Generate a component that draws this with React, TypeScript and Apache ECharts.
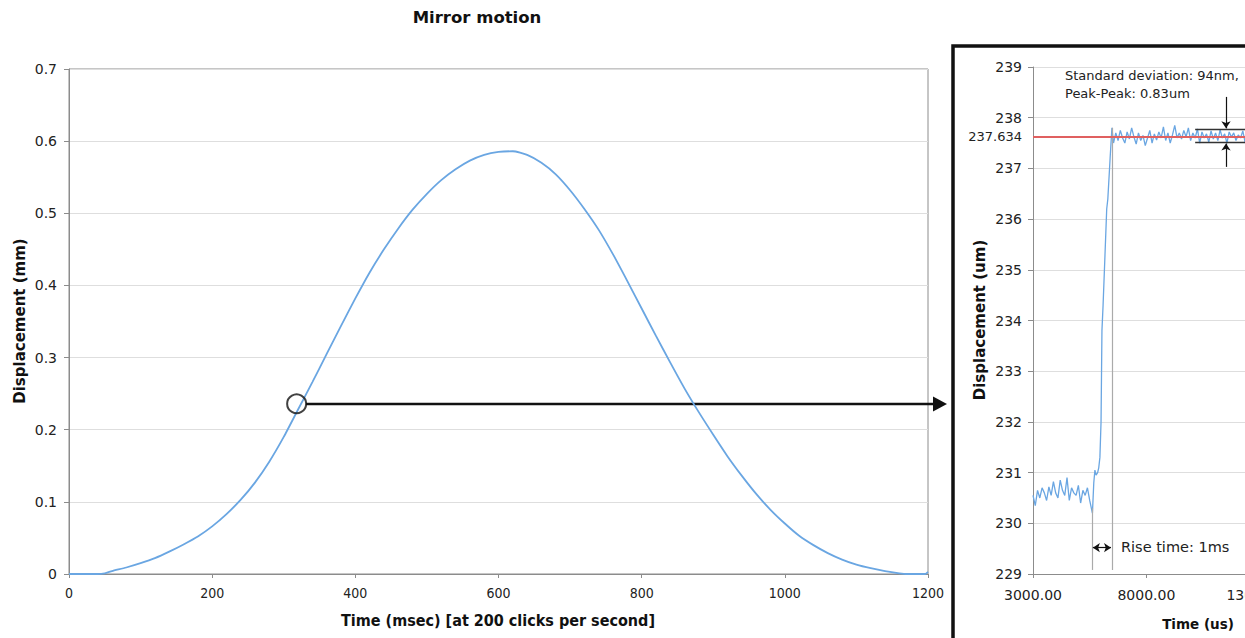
import React, { useEffect, useRef } from "react";
import * as echarts from "echarts";

// Main chart: time (ms) vs displacement (mm)
const mainTime = [0, 20, 40, 50, 60, 80, 100, 120, 140, 160, 180, 200, 220, 240, 260, 280, 300, 320, 340, 360, 380, 400, 420, 440, 460, 480, 500, 520, 540, 560, 580, 600, 620, 640, 660, 680, 700, 720, 740, 760, 780, 800, 820, 840, 860, 880, 900, 920, 940, 960, 980, 1000, 1020, 1040, 1060, 1080, 1100, 1120, 1140, 1160, 1170, 1196, 1200];
const mainDisp = [0, 0, 0, 0.001, 0.004, 0.009, 0.015, 0.022, 0.031, 0.041, 0.052, 0.066, 0.083, 0.103, 0.127, 0.156, 0.19, 0.228, 0.266, 0.305, 0.344, 0.382, 0.418, 0.45, 0.479, 0.505, 0.527, 0.546, 0.561, 0.573, 0.581, 0.585, 0.586, 0.581, 0.57, 0.554, 0.532, 0.506, 0.477, 0.443, 0.406, 0.368, 0.33, 0.293, 0.257, 0.224, 0.193, 0.163, 0.136, 0.111, 0.089, 0.07, 0.053, 0.04, 0.029, 0.02, 0.013, 0.008, 0.004, 0.001, 0, 0, 0.003];
const highlightPoint = [318, 0.236];

// Inset chart: time (us) vs displacement (um)
const insetTime = [
  3000, 3100, 3200, 3300, 3400, 3500, 3600, 3700, 3800, 3900, 4000, 4100, 4200, 4300, 4400, 4500, 4600, 4700, 4800, 4900, 5000, 5100, 5200, 5300, 5400, 5500,
  5620, 5680, 5730, 5780, 5850, 5900, 5950, 6000, 6040, 6090, 6200, 6250, 6300, 6400, 6480,
  6550, 6650, 6750, 6850, 6950, 7050, 7150, 7250, 7350, 7450, 7550, 7650, 7750, 7850, 7950, 8050, 8150, 8250, 8350, 8450, 8550, 8650, 8750, 8850, 8950, 9050, 9150, 9250, 9350, 9450, 9550, 9650, 9750, 9850, 9950, 10050, 10150, 10250, 10350, 10450, 10550, 10650, 10750, 10850, 10950, 11050, 11150, 11250, 11350, 11450, 11550, 11650, 11750, 11850, 11950, 12050, 12150, 12250, 12350, 12450, 12550,
];
const insetDisp = [
  230.55, 230.35, 230.65, 230.5, 230.7, 230.6, 230.45, 230.72, 230.55, 230.82, 230.6, 230.5, 230.85, 230.65, 230.55, 230.9, 230.45, 230.7, 230.6, 230.55, 230.75, 230.4, 230.65, 230.55, 230.7, 230.45,
  230.2, 230.8, 231.05, 230.95, 231.0, 231.1, 231.3, 232.0, 233.8, 234.3, 235.6, 236.2, 236.4, 237.2, 237.8,
  237.5, 237.7, 237.55, 237.75, 237.6, 237.5, 237.72, 237.58, 237.8, 237.62, 237.48, 237.7, 237.55, 237.65, 237.45, 237.6, 237.75, 237.5, 237.68, 237.56, 237.72, 237.6, 237.82, 237.55, 237.7, 237.5, 237.66, 237.85, 237.6, 237.7, 237.58, 237.75, 237.62, 237.8, 237.55, 237.7, 237.6, 237.78, 237.5, 237.72, 237.6, 237.68, 237.52, 237.74, 237.58, 237.7, 237.55, 237.76, 237.6, 237.68, 237.5, 237.72, 237.62, 237.7, 237.55, 237.66, 237.6, 237.74, 237.52, 237.68,
];
const insetMean = 237.634;
const peakTop = 237.77;
const peakBottom = 237.51;
const riseStart = 5600;
const riseEnd = 6480;

const FONT = '"DejaVu Sans", Verdana, sans-serif';
const COND = '"DejaVu Sans Condensed", "DejaVu Sans", sans-serif';
const LINE_BLUE = "#6aa6e2";
const AXIS_GRAY = "#8c8c8c";
const GRID_GRAY = "#dedede";

export default function App() {
  const ref = useRef<HTMLDivElement>(null);

  useEffect(() => {
    if (!ref.current) return;
    const chart = echarts.init(ref.current, undefined, { renderer: "svg" });

    const mainData = mainTime.map((t, i) => [t, mainDisp[i]]);
    const insetData = insetTime.map((t, i) => [t, insetDisp[i]]);

    const solid = (color: string, width: number) => ({ color, width, type: "solid" });

    const option: any = {
      animation: false,
      backgroundColor: "#ffffff",
      grid: [
        { left: 69, top: 69, width: 859, height: 505, show: true, borderColor: AXIS_GRAY, borderWidth: 1, backgroundColor: "transparent", outerBoundsMode: "none", containLabel: false },
        { left: 1033, top: 67, width: 340.2, height: 507, outerBoundsMode: "none", containLabel: false },
      ],
      xAxis: [
        {
          gridIndex: 0, type: "value", min: 0, max: 1200, interval: 200,
          axisLine: { show: true, onZero: false, lineStyle: { color: AXIS_GRAY } },
          axisTick: { show: true, length: 4, lineStyle: { color: AXIS_GRAY } },
          axisLabel: { margin: 12, fontSize: 14, fontFamily: COND, color: "#222", formatter: (v: number) => String(v) },
          splitLine: { show: false },
        },
        {
          gridIndex: 1, type: "value", min: 3000, max: 18000, interval: 5000,
          axisLine: { show: true, onZero: false, lineStyle: { color: AXIS_GRAY } },
          axisTick: { show: true, length: 4, lineStyle: { color: AXIS_GRAY } },
          axisLabel: { margin: 14, fontSize: 14, fontFamily: FONT, color: "#222", formatter: (v: number) => v.toFixed(2) },
          splitLine: { show: false },
        },
      ],
      yAxis: [
        {
          gridIndex: 0, type: "value", min: 0, max: 0.7, interval: 0.1,
          axisLine: { show: true, lineStyle: { color: AXIS_GRAY } },
          axisTick: { show: true, length: 5, lineStyle: { color: AXIS_GRAY } },
          axisLabel: { margin: 12, fontSize: 14, fontFamily: FONT, color: "#222", formatter: (v: number) => (v === 0 ? "0" : v.toFixed(1)) },
          splitLine: { show: true, lineStyle: { color: GRID_GRAY } },
        },
        {
          gridIndex: 1, type: "value", min: 229, max: 239, interval: 1,
          axisLine: { show: true, lineStyle: { color: AXIS_GRAY } },
          axisTick: { show: true, length: 5, lineStyle: { color: AXIS_GRAY } },
          axisLabel: { margin: 11, fontSize: 14, fontFamily: FONT, color: "#222" },
          splitLine: { show: true, lineStyle: { color: GRID_GRAY } },
        },
      ],
      series: [
        {
          type: "line", xAxisIndex: 0, yAxisIndex: 0, data: mainData,
          showSymbol: false, smooth: 0.2, lineStyle: { color: LINE_BLUE, width: 1.8 }, silent: true,
        },
        {
          type: "scatter", xAxisIndex: 0, yAxisIndex: 0, data: [highlightPoint],
          symbol: "circle", symbolSize: 19, silent: true, z: 5,
          itemStyle: { color: "rgba(0,0,0,0)", borderColor: "#111", borderWidth: 2 },
        },
        {
          type: "line", xAxisIndex: 1, yAxisIndex: 1, data: insetData,
          showSymbol: false, lineStyle: { color: LINE_BLUE, width: 1.3 }, silent: true,
          markLine: {
            silent: true, symbol: ["none", "none"], label: { show: false },
            animation: false,
            data: [
              [
                { coord: [riseStart, 229.08], lineStyle: solid("#aaaaaa", 1.2) },
                { coord: [riseStart, 230.3] },
              ],
              [
                { coord: [riseEnd, 229.08], lineStyle: solid("#aaaaaa", 1.2) },
                { coord: [riseEnd, 237.8] },
              ],
              [
                { coord: [riseStart + 40, 229.52], symbol: "arrow", symbolSize: 7, lineStyle: solid("#111", 1.2) },
                { coord: [riseEnd - 40, 229.52], symbol: "arrow", symbolSize: 7 },
              ],
              [
                { coord: [3000, insetMean], lineStyle: solid("#e06060", 1.8) },
                { coord: [18000, insetMean] },
              ],
              [
                { coord: [10150, peakTop], lineStyle: solid("#333", 1.4) },
                { coord: [12700, peakTop] },
              ],
              [
                { coord: [10150, peakBottom], lineStyle: solid("#333", 1.4) },
                { coord: [12700, peakBottom] },
              ],
              [
                { coord: [11510, 238.41], symbol: "none", lineStyle: solid("#111", 1.2) },
                { coord: [11510, peakTop + 0.02], symbol: "arrow", symbolSize: 7 },
              ],
              [
                { coord: [11510, 237.03], symbol: "none", lineStyle: solid("#111", 1.2) },
                { coord: [11510, peakBottom - 0.02], symbol: "arrow", symbolSize: 7 },
              ],
            ],
          },
        },
      ],
      graphic: [
        { type: "text", x: 477, y: 17, style: { text: "Mirror motion", fontFamily: FONT, fontWeight: "bold", fontSize: 16.5, fill: "#111", align: "center", verticalAlign: "middle" } },
        { type: "text", x: 20, y: 321, rotation: Math.PI / 2, style: { text: "Displacement (mm)", fontFamily: FONT, fontWeight: "bold", fontSize: 15, fill: "#111", align: "center", verticalAlign: "middle" } },
        { type: "text", x: 498, y: 620, style: { text: "Time (msec) [at 200 clicks per second]", fontFamily: COND, fontWeight: "bold", fontSize: 16, fill: "#111", align: "center", verticalAlign: "middle" } },
        { type: "line", shape: { x1: 306, y1: 404, x2: 938, y2: 404 }, style: { stroke: "#111", lineWidth: 2.5 } },
        { type: "polygon", shape: { points: [[933, 396.5], [947, 404], [933, 411.5]] }, style: { fill: "#111" } },
        { type: "rect", shape: { x: 953, y: 46, width: 420, height: 700 }, style: { fill: "none", stroke: "#111", lineWidth: 3.5 } },
        { type: "text", x: 980, y: 320, rotation: Math.PI / 2, style: { text: "Displacement (um)", fontFamily: FONT, fontWeight: "bold", fontSize: 15, fill: "#111", align: "center", verticalAlign: "middle" } },
        { type: "text", x: 1198, y: 624, style: { text: "Time (us)", fontFamily: FONT, fontWeight: "bold", fontSize: 13.5, fill: "#111", align: "center", verticalAlign: "middle" } },
        { type: "text", x: 1022, y: 136, style: { text: "237.634", fontFamily: FONT, fontSize: 13, fill: "#222", align: "right", verticalAlign: "middle" } },
        { type: "text", x: 1065, y: 75, style: { text: "Standard deviation: 94nm,", fontFamily: FONT, fontSize: 13, fill: "#222", align: "left", verticalAlign: "middle" } },
        { type: "text", x: 1065, y: 93, style: { text: "Peak-Peak: 0.83um", fontFamily: FONT, fontSize: 13, fill: "#222", align: "left", verticalAlign: "middle" } },
        { type: "text", x: 1121, y: 547, style: { text: "Rise time: 1ms", fontFamily: FONT, fontSize: 14.5, fill: "#222", align: "left", verticalAlign: "middle" } },
      ],
    };

    chart.setOption(option);
    return () => chart.dispose();
  }, []);

  return (
    <div
      ref={ref}
      style={{ position: "fixed", left: 0, top: 0, width: 1245, height: 638, background: "#fff" }}
    />
  );
}
